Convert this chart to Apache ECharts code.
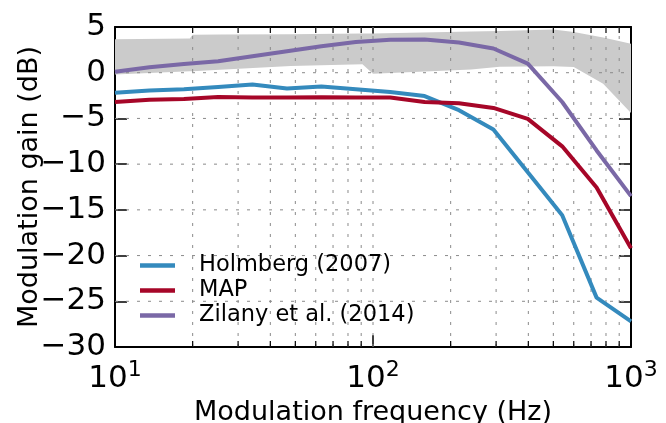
<!DOCTYPE html>
<html>
<head>
<meta charset="utf-8">
<script src="https://cdn.jsdelivr.net/npm/echarts@6/dist/echarts.min.js"></script>
<style>html,body{margin:0;padding:0;background:#fff}#c{width:666px;height:423px}</style>
</head>
<body>
<div id="c"></div>
<script>
// ---- data ----
const freqs = [10, 13.6, 18.5, 25.1, 34.1, 46.4, 63.1, 85.8, 116.6, 158.5, 215.4, 292.9, 398.1, 541.2, 735.6, 1000];
const holmberg = [-2.2, -1.95, -1.8, -1.55, -1.3, -1.72, -1.5, -1.8, -2.1, -2.55, -4.1, -6.2, -10.9, -15.6, -24.6, -27.2];
const mapModel = [-3.2, -2.95, -2.87, -2.65, -2.7, -2.7, -2.68, -2.7, -2.7, -3.2, -3.35, -3.85, -5.05, -8.05, -12.55, -19.2];
const zilany = [0.1, 0.6, 0.95, 1.25, 1.8, 2.35, 2.9, 3.35, 3.6, 3.62, 3.3, 2.65, 1.0, -3.2, -8.5, -13.5];
const bandFreq = [10, 19.5, 20, 25.5, 48, 91, 100, 240, 310, 500, 600, 780, 1000];
const bandUpper = [3.65, 3.75, 4.15, 4.17, 4.2, 4.3, 4.3, 4.5, 4.55, 4.73, 4.45, 3.85, 3.17];
const bandLower = [-0.2, 0.15, 0.15, 0.33, 0.73, 0.92, -0.1, 0.35, 0.65, 0.7, 0.62, -1.2, -4.4];
const seriesNames = ['Holmberg (2007)', 'MAP', 'Zilany et al. (2014)'];
const yTicks = [-30, -25, -20, -15, -10, -5, 0, 5];
const xMajorTicks = [10, 100, 1000];
const xMinorTicks = [20, 30, 40, 50, 60, 70, 80, 90, 200, 300, 400, 500, 600, 700, 800, 900];
const xGridLines = [20, 30, 40, 50, 60, 70, 80, 90, 100, 200, 300, 400, 500, 600, 700, 800, 900];
const yGridLines = [-25, -20, -15, -10, -5, 0];

const FONT = 'DejaVu Sans';
const colors = ['#348ABD', '#A60628', '#7A68A6'];
const chart = echarts.init(document.getElementById('c'), null, {renderer: 'canvas'});

function pair(xs, ys) { return xs.map((x, i) => [x, ys[i]]); }

const axisLineStyle = {color: '#000', width: 2};
const xCommon = {
  type: 'log', logBase: 10, min: 10, max: 1000,
  axisLine: {show: true, onZero: false, lineStyle: axisLineStyle},
  axisTick: {show: true, inside: true, length: 12, lineStyle: {color: '#000', width: 1.5}},
  splitLine: {show: false}, minorTick: {show: false}, minorSplitLine: {show: false}
};
const yCommon = {
  type: 'value', min: -30, max: 5, interval: 5,
  axisLine: {show: true, onZero: false, lineStyle: axisLineStyle},
  axisTick: {show: true, inside: true, length: 12, lineStyle: {color: '#000', width: 1.5}},
  splitLine: {show: false}
};

const option = {
  backgroundColor: '#fff',
  animation: false,
  grid: {left: 115, right: 35, top: 27, bottom: 76, containLabel: false, outerBoundsMode: 'none'},
  xAxis: [
    Object.assign({}, xCommon, {
      position: 'bottom',
      name: 'Modulation frequency (Hz)', nameLocation: 'middle', nameGap: 52, nameMoveOverlap: false,
      nameTextStyle: {fontFamily: FONT, fontSize: 27, color: '#000'},
      axisLabel: {
        margin: 12, color: '#000',
        formatter: v => '{a|10}{b|' + Math.round(Math.log10(v)) + '}',
        rich: {
          a: {fontFamily: FONT, fontSize: 31, color: '#000'},
          b: {fontFamily: FONT, fontSize: 22, color: '#000', padding: [0, 0, 18, 0]}
        }
      }
    }),
    Object.assign({}, xCommon, {position: 'top', axisLabel: {show: false}})
  ],
  yAxis: [
    Object.assign({}, yCommon, {
      position: 'left',
      name: 'Modulation gain (dB)', nameLocation: 'middle', nameGap: 72, nameRotate: 90, nameMoveOverlap: false,
      nameTextStyle: {fontFamily: FONT, fontSize: 27, color: '#000'},
      axisLabel: {
        margin: 9, color: '#000', fontFamily: FONT, fontSize: 31,
        formatter: v => v < 0 ? '\u2212' + (-v) : String(v)
      }
    }),
    Object.assign({}, yCommon, {position: 'right', axisLabel: {show: false}})
  ],
  legend: {
    orient: 'vertical', left: 140, top: 254, padding: 0,
    itemWidth: 35, itemHeight: 14, itemGap: 2,
    data: seriesNames,
    textStyle: {fontFamily: FONT, fontSize: 22.5, color: '#000', padding: [0, 0, 0, 19]},
    icon: 'path://M0,0H10V1.3H0Z'
  },
  series: [
    {
      type: 'custom', name: 'band', z: 1, silent: true, clip: true,
      data: [[10, 0]],
      renderItem: function (params, api) {
        const pts = [];
        for (let i = 0; i < bandFreq.length; i++) pts.push(api.coord([bandFreq[i], bandUpper[i]]));
        for (let i = bandFreq.length - 1; i >= 0; i--) pts.push(api.coord([bandFreq[i], bandLower[i]]));
        return {type: 'polygon', shape: {points: pts}, style: {fill: '#cbcbcb', stroke: null}};
      }
    },
    {
      type: 'custom', name: 'gridlines', z: 2, silent: true, clip: false,
      data: [[10, 0]],
      renderItem: function (params, api) {
        const children = [];
        const dash = {stroke: '#8a8a8a', lineWidth: 1, lineDash: [3, 8], fill: null};
        xGridLines.forEach(v => {
          const p1 = api.coord([v, -30]), p2 = api.coord([v, 5]);
          children.push({type: 'line', shape: {x1: p1[0], y1: p1[1], x2: p2[0], y2: p2[1]}, style: dash});
        });
        yGridLines.forEach(v => {
          const p1 = api.coord([10, v]), p2 = api.coord([1000, v]);
          children.push({type: 'line', shape: {x1: p1[0], y1: p1[1], x2: p2[0], y2: p2[1]}, style: dash});
        });
        xMinorTicks.forEach(v => {
          const b = api.coord([v, -30]), t = api.coord([v, 5]);
          children.push({type: 'line', shape: {x1: b[0], y1: b[1], x2: b[0], y2: b[1] - 6}, style: {stroke: '#000', lineWidth: 1.2}});
          children.push({type: 'line', shape: {x1: t[0], y1: t[1], x2: t[0], y2: t[1] + 6}, style: {stroke: '#000', lineWidth: 1.2}});
        });
        return {type: 'group', children: children};
      }
    },
    {name: seriesNames[0], type: 'line', z: 3, data: pair(freqs, holmberg), symbol: 'none', smooth: false,
      lineStyle: {color: colors[0], width: 4}, itemStyle: {color: colors[0]}},
    {name: seriesNames[1], type: 'line', z: 3, data: pair(freqs, mapModel), symbol: 'none',
      lineStyle: {color: colors[1], width: 4}, itemStyle: {color: colors[1]}},
    {name: seriesNames[2], type: 'line', z: 3, data: pair(freqs, zilany), symbol: 'none',
      lineStyle: {color: colors[2], width: 4}, itemStyle: {color: colors[2]}}
  ]
};
chart.setOption(option);
</script>
</body>
</html>
